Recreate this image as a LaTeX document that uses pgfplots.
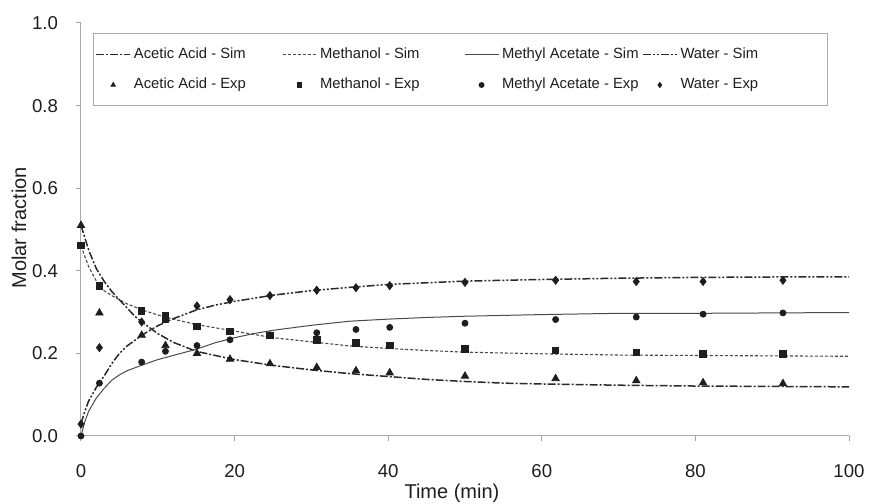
\documentclass[border=0pt]{standalone}
\usepackage{fontspec}
\setmainfont{Liberation Sans}
\usepackage{pgfplots}
\pgfplotsset{compat=1.18}
\definecolor{axgray}{HTML}{A8A8A8}
\definecolor{ink}{HTML}{1E1E1E}
\definecolor{lineA}{HTML}{2A2A2A}
\definecolor{lineB}{HTML}{4A4A4A}
\newcommand{\LE}[2]{\makebox[#1][l]{\hspace{1.5pt}#2}}
\begin{document}
\begin{tikzpicture}
\useasboundingbox (-40.5pt,-34pt) rectangle (394pt,218pt);
\begin{axis}[
 scale only axis, width=384pt, height=206.5pt,
 xmin=0, xmax=100, ymin=0, ymax=1,
 axis x line=bottom, axis y line=left,
 axis line style={axgray, -, line width=0.5pt},
 xtick={0,20,40,60,80,100}, ytick={0,0.2,0.4,0.6,0.8,1.0},
 tick style={axgray, line width=0.5pt}, tick align=outside, major tick length=2.5pt,
 /pgf/number format/assume math mode=true,
 tick label style={font=\fontsize{9.3}{11}\selectfont, text=ink},
 yticklabel style={/pgf/number format/.cd, fixed, fixed zerofill, precision=1, /tikz/.cd, xshift=-5.5pt},
 xticklabel style={yshift=-8.3pt},
 xlabel={Time (min)}, ylabel={Molar fraction},
 label style={font=\fontsize{10}{12}\selectfont, text=ink},
 xlabel style={at={(axis description cs:0.483,-0.138)}, anchor=center},
 ylabel style={at={(axis description cs:-0.0807,0.504)}, anchor=center},
 legend columns=4,
 legend cell align=left,
 legend style={at={(0.0156,0.976)}, anchor=north west, draw=axgray, line width=0.5pt,
   fill=white, font=\fontsize{7.4}{9}\selectfont, inner xsep=1pt, inner ysep=5pt,
   row sep=4.5pt, column sep=0pt, nodes={inner ysep=2pt, inner xsep=0pt, text=ink}},
 legend image code/.code={\draw[mark repeat=2,mark phase=2,#1,mark size=1.2pt] plot coordinates {(0pt,0pt) (8.5pt,0pt) (17pt,0pt)};},
]
% Simulation curves
\addplot[lineA, line width=0.75pt, dash pattern=on 4pt off 1pt on 1pt off 1pt] coordinates {
(0,0.51)(0.5,0.48)(1,0.45)(2,0.405)(3,0.375)(4,0.35)(5,0.33)(6,0.31)(7,0.29)(8,0.275)(10,0.248)(12,0.227)(15,0.205)(20,0.185)(25,0.171)(30,0.16)(35,0.151)(40,0.144)(45,0.137)(50,0.132)(55,0.128)(60,0.126)(70,0.123)(80,0.121)(90,0.12)(100,0.119)};
\addlegendentry{\LE{75.5pt}{Acetic Acid - Sim}}
\addplot[lineB, line width=0.55pt, dash pattern=on 1.5pt off 1pt] coordinates {
(0,0.46)(1,0.41)(2,0.375)(3,0.352)(4,0.34)(6,0.32)(8,0.305)(10,0.293)(12,0.283)(15,0.27)(20,0.254)(25,0.238)(30,0.228)(35,0.218)(40,0.212)(45,0.207)(50,0.203)(60,0.199)(70,0.196)(80,0.195)(90,0.194)(100,0.193)};
\addlegendentry{\LE{73.5pt}{Methanol - Sim}}
\addplot[lineB, line width=0.5pt] coordinates {
(0,0)(0.5,0.035)(1,0.06)(2,0.092)(3,0.115)(4,0.135)(5,0.148)(6,0.158)(8,0.172)(10,0.185)(12,0.195)(15,0.21)(17.5,0.226)(20,0.238)(22.5,0.248)(25,0.256)(30,0.268)(35,0.278)(40,0.283)(45,0.287)(50,0.29)(60,0.294)(70,0.297)(80,0.297)(90,0.298)(100,0.299)};
\addlegendentry{\LE{71.5pt}{Methyl Acetate - Sim}}
\addplot[lineA, line width=0.75pt, dash pattern=on 4pt off 1pt on 1pt off 1pt on 1pt off 1pt] coordinates {
(0,0.03)(0.5,0.06)(1,0.085)(2,0.118)(3,0.145)(4,0.175)(5,0.2)(6,0.218)(8,0.245)(10,0.267)(12,0.284)(15,0.305)(17.5,0.317)(20,0.326)(25,0.341)(30,0.352)(35,0.36)(40,0.367)(45,0.371)(50,0.375)(60,0.379)(70,0.382)(80,0.384)(90,0.385)(100,0.385)};
\addlegendentry{\LE{74pt}{Water - Sim}}
% Experimental points
\addplot[only marks, mark=triangle*, mark size=2.1pt, ink, mark options={fill=ink, draw=ink}] coordinates {
(0,0.51)(2.4,0.298)(7.9,0.244)(11.0,0.219)(15.1,0.20)(19.4,0.186)(24.6,0.175)(30.7,0.166)(35.8,0.158)(40.2,0.153)(50.0,0.145)(61.8,0.139)(72.3,0.134)(81.0,0.129)(91.4,0.127)};
\addlegendentry{\LE{75.5pt}{Acetic Acid - Exp}}
\addplot[only marks, mark=square*, mark size=1.6pt, ink, mark options={fill=ink, draw=ink}] coordinates {
(0,0.461)(2.4,0.363)(7.9,0.303)(11.0,0.291)(11.0,0.282)(15.1,0.266)(19.4,0.253)(24.6,0.243)(30.7,0.233)(35.8,0.225)(40.2,0.219)(50.0,0.211)(61.8,0.207)(72.3,0.203)(81.0,0.199)(91.4,0.199)};
\addlegendentry{\LE{73.5pt}{Methanol - Exp}}
\addplot[only marks, mark=*, mark size=1.5pt, ink, mark options={fill=ink, draw=ink}] coordinates {
(0,0)(2.4,0.128)(7.9,0.179)(11.0,0.205)(15.1,0.219)(19.4,0.233)(24.6,0.245)(30.7,0.250)(35.8,0.258)(40.2,0.263)(50.0,0.273)(61.8,0.282)(72.3,0.288)(81.0,0.295)(91.4,0.298)};
\addlegendentry{\LE{71.5pt}{Methyl Acetate - Exp}}
\addplot[only marks, mark=diamond*, mark size=2pt, ink, mark options={fill=ink, draw=ink}] coordinates {
(0,0.029)(2.4,0.214)(7.9,0.276)(11.0,0.288)(15.1,0.315)(19.4,0.330)(24.6,0.340)(30.7,0.353)(35.8,0.359)(40.2,0.364)(50.0,0.372)(61.8,0.377)(72.3,0.374)(81.0,0.374)(91.4,0.377)};
\addlegendentry{\LE{74pt}{Water - Exp}}
\end{axis}
\end{tikzpicture}
\end{document}
